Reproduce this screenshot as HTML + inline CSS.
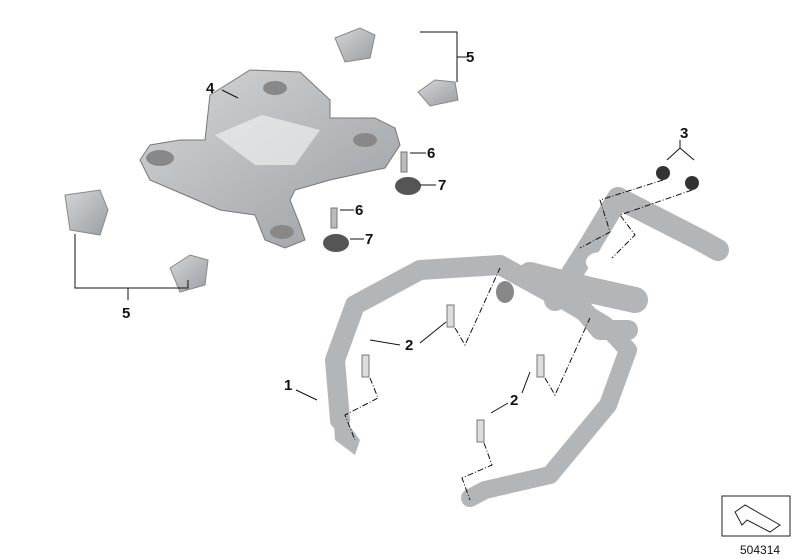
<!DOCTYPE html>
<html><head><style>
html,body{margin:0;padding:0;background:#fff;}
svg{display:block}
text{font-family:"Liberation Sans",sans-serif;font-weight:bold;font-size:15px;fill:#111}
</style></head><body>
<svg width="800" height="560" viewBox="0 0 800 560" xmlns="http://www.w3.org/2000/svg">
<defs>
<linearGradient id="g" x1="0" y1="0" x2="1" y2="1">
<stop offset="0" stop-color="#d4d6d8"/><stop offset="1" stop-color="#9a9ea2"/></linearGradient>
</defs>
<path d="M210,95 L250,70 L300,72 L330,100 L330,118 L375,118 L395,128 L400,145 L385,168 L330,180 L295,190 L290,200 L300,225 L305,240 L285,248 L265,240 L255,215 L220,210 L185,195 L150,180 L140,160 L150,145 L180,140 L205,140 Z" fill="url(#g)" stroke="#777" stroke-width="1"/>
<path d="M215,135 L262,115 L320,130 L295,165 L255,165 Z" fill="#eceeef" opacity=".7"/>
<ellipse cx="160" cy="158" rx="14" ry="8" fill="#888"/>
<ellipse cx="275" cy="88" rx="12" ry="7" fill="#888"/>
<ellipse cx="365" cy="140" rx="12" ry="7" fill="#888"/>
<ellipse cx="282" cy="232" rx="12" ry="7" fill="#888"/>
<path d="M335,38 L360,28 L375,35 L370,58 L345,62 Z" fill="url(#g)" stroke="#888"/>
<path d="M418,92 L435,80 L455,82 L458,100 L430,106 Z" fill="url(#g)" stroke="#888"/>
<path d="M65,195 L100,190 L108,210 L100,235 L70,230 Z" fill="url(#g)" stroke="#888"/>
<path d="M170,268 L190,255 L208,260 L205,285 L180,292 Z" fill="url(#g)" stroke="#888"/>
<rect x="401" y="152" width="6" height="20" fill="#bbb" stroke="#777"/>
<ellipse cx="408" cy="186" rx="13" ry="9" fill="#555"/>
<rect x="331" y="208" width="6" height="20" fill="#bbb" stroke="#777"/>
<ellipse cx="336" cy="243" rx="13" ry="9" fill="#555"/>
<ellipse cx="663" cy="173" rx="7" ry="7" fill="#333"/>
<ellipse cx="692" cy="183" rx="7" ry="7" fill="#333"/>
<g fill="none" stroke="#b3b6b9" stroke-linecap="round" stroke-linejoin="round">
<path d="M340,420 L335,360 L355,305 L420,270 L500,265 L560,298" stroke-width="20"/>
<path d="M560,298 L605,325 L628,350 L608,405 L550,475 L485,490 L470,498" stroke-width="18"/>
<path d="M555,300 L590,245 L618,198 L700,240 L718,250" stroke-width="22"/>
<path d="M530,275 L590,290 L635,300" stroke-width="26"/>
<path d="M575,300 L600,330 L628,330" stroke-width="20"/>
</g>
<path d="M330,360 L345,420 L360,440 L355,455 L335,440 Z" fill="#b3b6b9"/>
<ellipse cx="505" cy="292" rx="9" ry="11" fill="#888"/>
<ellipse cx="600" cy="262" rx="14" ry="10" fill="#fff"/>
<g stroke="#777" fill="#ddd">
<rect x="447" y="305" width="7" height="22"/><rect x="362" y="355" width="7" height="22"/>
<rect x="537" y="355" width="7" height="22"/><rect x="477" y="420" width="7" height="22"/>
</g>
<g stroke="#111" stroke-width="1" fill="none">
<path d="M420,32 L457,32 L457,82 M457,57 L468,57"/>
<path d="M222,90 L238,98"/>
<path d="M410,153 L426,153"/><path d="M420,185 L436,185"/>
<path d="M340,210 L354,210"/><path d="M350,239 L364,239"/>
<path d="M667,160 L680,148 L694,160 M680,148 L680,140"/>
<path d="M75,234 L75,288 L188,288 L188,280 M128,288 L128,300"/>
<path d="M370,340 L400,345 M420,343 L446,322"/>
<path d="M491,413 L508,403 M522,393 L530,372"/>
<path d="M296,390 L317,400"/>
</g>
<g stroke="#111" stroke-width="1" fill="none" stroke-dasharray="6,2,1,2">
<path d="M455,328 L465,345 L500,268"/>
<path d="M370,378 L378,398 L345,415 L355,440"/>
<path d="M545,378 L555,395 L590,318"/>
<path d="M484,443 L492,465 L462,478 L470,500"/>
<path d="M663,180 L600,200 L610,232 L580,248"/>
<path d="M692,190 L620,215 L635,235 L612,258"/>
</g>
<text x="466" y="62">5</text><text x="206" y="93">4</text>
<text x="427" y="158">6</text><text x="438" y="190">7</text>
<text x="355" y="215">6</text><text x="365" y="244">7</text>
<text x="680" y="138">3</text><text x="122" y="318">5</text>
<text x="405" y="350">2</text><text x="510" y="405">2</text>
<text x="284" y="390">1</text>
<rect x="722" y="496" width="68" height="40" fill="#fff" stroke="#222"/>
<path d="M735,512 L745,505 L780,525 L770,532 L747,520 L742,525 Z" fill="#fff" stroke="#222"/>
<text x="740" y="554" style="font-weight:normal;font-size:12px">504314</text>
</svg>
</body></html>
